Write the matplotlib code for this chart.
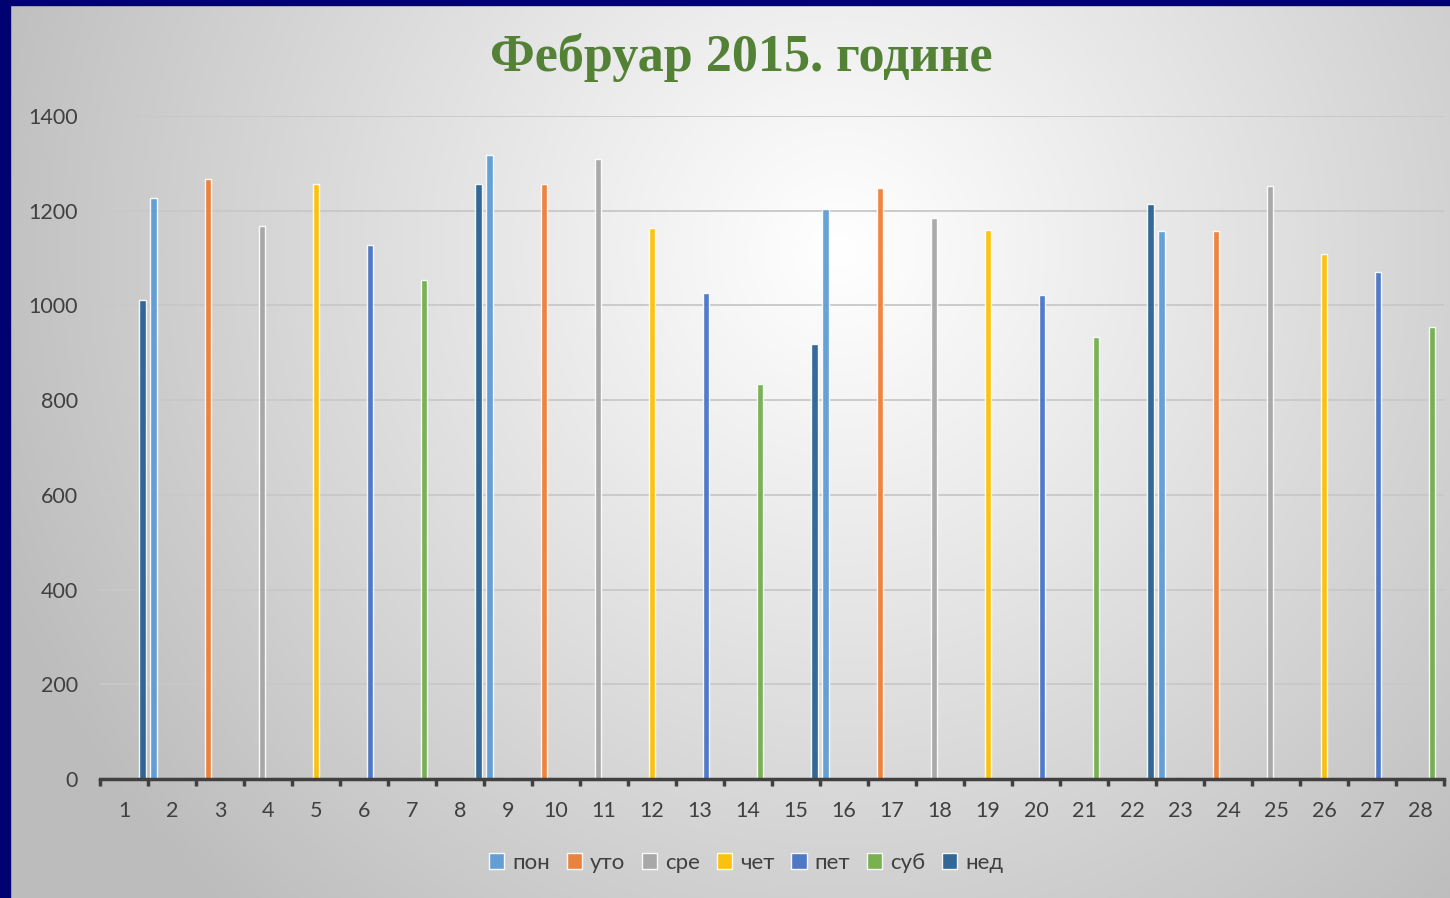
import numpy as np
import matplotlib
matplotlib.use("Agg")
import matplotlib.pyplot as plt
from matplotlib.patches import Rectangle, Patch
from matplotlib.ticker import FixedLocator

# ---- data ----
title = "Фебруар 2015. године"
series_names = ["пон", "уто", "сре", "чет", "пет", "суб", "нед"]
series_colors = ["#5B9BD5", "#ED7D31", "#A5A5A5", "#FFC000", "#4472C4", "#70AD47", "#255E91"]
days = list(range(1, 29))
values = [1011, 1226, 1268, 1168, 1257, 1127, 1053,
          1256, 1318, 1256, 1310, 1163, 1026, 834,
          918, 1203, 1247, 1184, 1160, 1021, 933,
          1214, 1158, 1158, 1253, 1108, 1071, 954]
# 1 February 2015 was a Sunday (нед)
first_weekday = 6
y_ticks = [0, 200, 400, 600, 800, 1000, 1200, 1400]

W, H = 1450, 898
fig = plt.figure(figsize=(W / 100, H / 100), dpi=100)

# background radial gradient
bg = fig.add_axes([0, 0, 1, 1], zorder=-10)
yy, xx = np.mgrid[0:H, 0:W]
r = np.sqrt((xx - 840) ** 2 + (yy - 250) ** 2)
val = np.clip(1.0 - 0.25 * (r / 866.0) ** 1.05, 0.74, 1.0)
img = np.dstack([val, val, val])
bg.imshow(img, extent=[0, W, H, 0], aspect="auto")
bg.set_xlim(0, W)
bg.set_ylim(H, 0)
bg.axis("off")

# navy frame
fig.patches.append(Rectangle((0, 0), 10 / W, 1, transform=fig.transFigure, color="#000070", zorder=5))
fig.patches.append(Rectangle((0, 1 - 5 / H), 1, 5 / H, transform=fig.transFigure, color="#000070", zorder=5))

ax = fig.add_axes([100 / W, (H - 779) / H, 1344 / W, 663 / H])
ax.set_facecolor("none")

n = len(series_names)
w = 1.0 / (n + 0.75)
for j, name in enumerate(series_names):
    xs, hs = [], []
    for d, v in zip(days, values):
        if (first_weekday + d - 1) % 7 == j:
            xs.append(d - 0.5 + 0.375 * w + w * (j + 0.5))
            hs.append(v)
    ax.bar(xs, hs, width=w, color=series_colors[j], alpha=0.92, edgecolor=(1, 1, 1, 0.5),
           linewidth=1.0, zorder=3, label=name)

ax.set_xlim(0.5, 28.5)
ax.set_ylim(0, 1400)
ax.set_yticks(y_ticks)
ax.set_yticklabels([str(t) for t in y_ticks])
ax.set_xticks(days)
ax.set_xticklabels([str(d) for d in days])
ax.xaxis.set_minor_locator(FixedLocator(np.arange(0.5, 28.6, 1.0)))

for s in ["top", "right", "left"]:
    ax.spines[s].set_visible(False)
ax.spines["bottom"].set_color("#404040")
ax.spines["bottom"].set_linewidth(2.5)
ax.spines["bottom"].set_zorder(4)

ax.grid(axis="y", color="#c8c8c8", linewidth=1.3, zorder=0)
ax.tick_params(axis="y", length=0, pad=16, labelsize=15.5, labelcolor="#404040")
ax.tick_params(axis="x", which="major", length=0, pad=16, labelsize=15.5, labelcolor="#404040")
ax.tick_params(axis="x", which="minor", length=5, width=2.5, color="#404040", direction="out")
for lab in ax.get_xticklabels() + ax.get_yticklabels():
    lab.set_family("Lato")

fig.text(741 / W, 1 - 57 / H, title, ha="center", va="center", family="Liberation Serif",
         fontweight="bold", fontsize=37.5, color="#538135")

handles = [Patch(facecolor=c, edgecolor=(1, 1, 1, 0.6), alpha=0.92, label=nm)
           for nm, c in zip(series_names, series_colors)]
fig.legend(handles=handles, loc="center", bbox_to_anchor=(746 / W, 1 - 863 / H), ncol=7, frameon=False,
           prop={"family": "Lato", "size": 16}, labelcolor="#404040", handlelength=0.7,
           handleheight=0.7, handletextpad=0.35, columnspacing=0.75)

fig.savefig("out.png", dpi=100)
